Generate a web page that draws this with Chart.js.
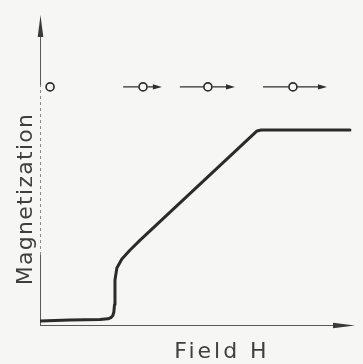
<!DOCTYPE html>
<html>
<head>
<meta charset="utf-8">
<script src="https://cdn.jsdelivr.net/npm/chart.js@4/dist/chart.umd.min.js"></script>
<style>
  html, body { margin: 0; padding: 0; background: #f6f6f4; }
  #wrap { width: 363px; height: 364px; }
</style>
</head>
<body>
<div id="wrap"><canvas id="c" width="363" height="364"></canvas></div>
<script>
// Magnetization curve of an antiferromagnet vs applied field (spin-flop, then saturation)
const fieldH = [0, 9.5, 19.0, 21.6, 22.5, 23.1, 23.45, 23.65, 23.8, 24.4, 26.0, 28.6, 31.7, 68.9, 70.2, 98.4];
const magnetization = [1.3, 1.6, 1.8, 2.0, 2.4, 3.0, 4.2, 6.5, 14.5, 18.4, 21.3, 24.2, 27.3, 62.6, 62.9, 62.9];

// Spin sketches drawn above the curve: site position along H and moment arrow extents
const spinSites = [3.2, 32.7, 53.3, 80.3];
const spinTail = [0, 6.3, 8.9, 9.5];
const spinHead = [0, 6.0, 8.6, 10.8];
const spinLevel = 76.8;

const axisLabels = { x: 'Field H', y: 'Magnetization' };

const ink = '#2b2b2b';
const textInk = '#3f3f3f';

const axesAndText = {
  id: 'axesAndText',
  beforeDatasetsDraw(chart) {
    const { ctx, chartArea: a } = chart;
    ctx.save();
    ctx.strokeStyle = '#5a5a5a';
    ctx.fillStyle = '#3a3a3a';
    ctx.lineWidth = 1;
    // y axis with arrow
    const x0 = a.left + 0.5;
    ctx.beginPath();
    ctx.moveTo(x0, a.bottom); ctx.lineTo(x0, 255);
    ctx.moveTo(x0, 85); ctx.lineTo(x0, a.top + 10);
    ctx.stroke();
    ctx.save();
    ctx.setLineDash([3, 3]);
    ctx.strokeStyle = '#8a8a8a';
    ctx.beginPath(); ctx.moveTo(x0, 255); ctx.lineTo(x0, 85); ctx.stroke();
    ctx.restore();
    ctx.beginPath();
    ctx.moveTo(x0, a.top);
    ctx.lineTo(x0 - 2.8, a.top + 22);
    ctx.lineTo(x0 + 2.8, a.top + 22);
    ctx.closePath(); ctx.fill();
    // x axis with arrow
    const y0 = a.bottom + 0.5;
    ctx.beginPath();
    ctx.moveTo(a.left, y0); ctx.lineTo(a.right - 10, y0);
    ctx.stroke();
    ctx.beginPath();
    ctx.moveTo(a.right, y0);
    ctx.lineTo(a.right - 22, y0 - 2.8);
    ctx.lineTo(a.right - 22, y0 + 2.8);
    ctx.closePath(); ctx.fill();

    // axis titles
    ctx.fillStyle = textInk;
    ctx.font = '22px "DejaVu Sans"';
    ctx.textBaseline = 'alphabetic';
    ctx.textAlign = 'center';
    ctx.letterSpacing = '3px';
    ctx.fillText(axisLabels.x, 222, 358);
    ctx.save();
    ctx.translate(32, 199);
    ctx.rotate(-Math.PI / 2);
    ctx.letterSpacing = '1.3px';
    ctx.fillText(axisLabels.y, 0, 0);
    ctx.restore();
    ctx.restore();
  },
  afterDatasetsDraw(chart) {
    const { ctx } = chart;
    const xs = chart.scales.x, ys = chart.scales.y;
    const py = ys.getPixelForValue(spinLevel);
    ctx.save();
    ctx.strokeStyle = '#2e2e2e';
    ctx.fillStyle = '#2e2e2e';
    ctx.lineWidth = 1.4;
    spinSites.forEach((h, i) => {
      if (!spinTail[i] && !spinHead[i]) return;
      const cx = xs.getPixelForValue(h);
      const tx = xs.getPixelForValue(h - spinTail[i]);
      const hx = xs.getPixelForValue(h + spinHead[i]);
      ctx.beginPath();
      ctx.moveTo(tx, py); ctx.lineTo(cx - 4.5, py);
      ctx.moveTo(cx + 4.5, py); ctx.lineTo(hx - 6, py);
      ctx.stroke();
      ctx.beginPath();
      ctx.moveTo(hx, py);
      ctx.lineTo(hx - 9, py - 2.6);
      ctx.lineTo(hx - 9, py + 2.6);
      ctx.closePath(); ctx.fill();
    });
    ctx.restore();
  }
};

new Chart(document.getElementById('c'), {
  type: 'scatter',
  data: {
    datasets: [
      {
        label: 'M(H)',
        data: fieldH.map((h, i) => ({ x: h, y: magnetization[i] })),
        showLine: true,
        borderColor: ink,
        borderWidth: 3,
        pointRadius: 0,
        tension: 0,
        borderJoinStyle: 'round',
        borderCapStyle: 'round'
      },
      {
        label: 'spins',
        data: spinSites.map(h => ({ x: h, y: spinLevel })),
        showLine: false,
        pointStyle: 'circle',
        pointRadius: 4,
        pointBorderWidth: 1.7,
        pointBorderColor: '#2e2e2e',
        pointBackgroundColor: '#f6f6f4'
      }
    ]
  },
  options: {
    responsive: false,
    animation: false,
    layout: { padding: { left: 40, top: 15, right: 8, bottom: 39 } },
    plugins: { legend: { display: false }, tooltip: { enabled: false } },
    scales: {
      x: { type: 'linear', min: 0, max: 100, display: false },
      y: { type: 'linear', min: 0, max: 100, display: false }
    }
  },
  plugins: [axesAndText]
});
</script>
</body>
</html>
